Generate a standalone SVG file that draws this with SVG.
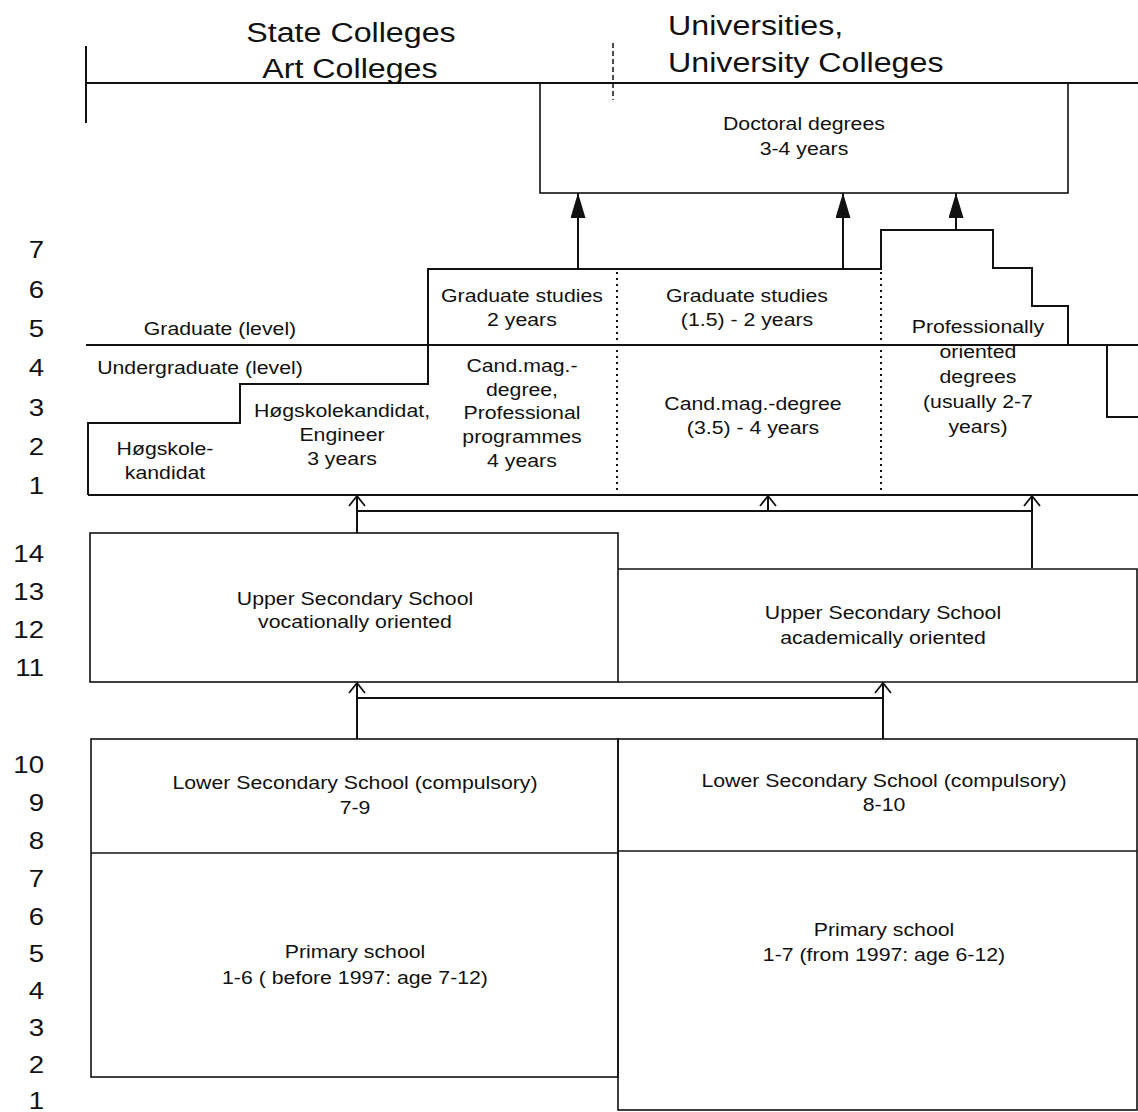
<svg xmlns="http://www.w3.org/2000/svg" width="1138" height="1112" viewBox="0 0 1138 1112">
<style>
.ln{fill:none;stroke:#111;stroke-width:2}
.bx{fill:none;stroke:#111;stroke-width:1.6}
.dot{fill:none;stroke:#111;stroke-width:2;stroke-dasharray:2 4}
.dash{fill:none;stroke:#111;stroke-width:1.5;stroke-dasharray:5 3}
.t{font-family:"Liberation Sans",Arial,sans-serif;font-size:18.5px;fill:#111;text-anchor:middle}
.h{font-family:"Liberation Sans",Arial,sans-serif;font-size:28px;fill:#111}
.n{font-family:"Liberation Sans",Arial,sans-serif;font-size:24px;fill:#111;text-anchor:end}
</style>
<defs>
<marker id="fa" viewBox="0 0 25 15" refX="25" refY="7.5" markerWidth="25" markerHeight="15" markerUnits="userSpaceOnUse" orient="auto">
<path d="M0,0 L25,7.5 L0,15 z" fill="#111"/>
</marker>
<marker id="oa" viewBox="-1 -1 12 18" refX="10" refY="8" markerWidth="12" markerHeight="18" markerUnits="userSpaceOnUse" orient="auto" overflow="visible">
<path d="M0,0 L10,8 L0,16" fill="none" stroke="#111" stroke-width="1.8"/>
</marker>
</defs>
<rect width="1138" height="1112" fill="#fff"/>

<g id="header">
<path class="ln" d="M86 83 H1138 M86 46 V123"/>
<path class="dash" d="M613 43 V100"/>
<g transform="scale(1.15 1)">
<text class="h" x="305.2" y="42" text-anchor="middle">State Colleges</text>
<text class="h" x="304.3" y="78" text-anchor="middle">Art Colleges</text>
<text class="h" x="580.9" y="35">Universities,</text>
<text class="h" x="580.9" y="72">University Colleges</text>
</g>
</g>

<g id="doctoral">
<rect class="bx" x="540" y="83" width="528" height="110"/>
<g transform="scale(1.15 1)">
<text class="t" x="699.1" y="130">Doctoral degrees</text>
<text class="t" x="699.1" y="155">3-4 years</text>
</g>
</g>

<g id="higher-education">
<path class="ln" d="M88 495 V423 H240 V384 H428 V269 H881 V230 H993 V268 H1032 V306 H1068 V345"/>
<path class="ln" d="M86 345 H1138 M1107 345 V417 H1138 M88 495 H1138"/>
<path class="dot" d="M617 272 V494 M881 272 V494"/>
<g transform="scale(1.15 1)">
<text class="t" x="191.3" y="335">Graduate (level)</text>
<text class="t" x="173.9" y="374">Undergraduate (level)</text>
<text class="t" x="297.4" y="417">Høgskolekandidat,</text>
<text class="t" x="297.4" y="441">Engineer</text>
<text class="t" x="297.4" y="465">3 years</text>
<text class="t" x="143.5" y="455">Høgskole-</text>
<text class="t" x="143.5" y="479">kandidat</text>
<text class="t" x="453.9" y="302">Graduate studies</text>
<text class="t" x="453.9" y="326">2 years</text>
<text class="t" x="453.9" y="372">Cand.mag.-</text>
<text class="t" x="453.9" y="396">degree,</text>
<text class="t" x="453.9" y="419">Professional</text>
<text class="t" x="453.9" y="443">programmes</text>
<text class="t" x="453.9" y="467">4 years</text>
<text class="t" x="649.6" y="302">Graduate studies</text>
<text class="t" x="649.6" y="326">(1.5) - 2 years</text>
<text class="t" x="654.8" y="410">Cand.mag.-degree</text>
<text class="t" x="654.8" y="434">(3.5) - 4 years</text>
<text class="t" x="850.4" y="333">Professionally</text>
<text class="t" x="850.4" y="358">oriented</text>
<text class="t" x="850.4" y="383">degrees</text>
<text class="t" x="850.4" y="408">(usually 2-7</text>
<text class="t" x="850.4" y="433">years)</text>
</g>
</g>

<g id="upper-secondary-vocational">
<rect class="bx" x="90" y="533" width="528" height="149"/>
<g transform="scale(1.15 1)">
<text class="t" x="308.7" y="605">Upper Secondary School</text>
<text class="t" x="308.7" y="628">vocationally oriented</text>
</g>
</g>

<g id="upper-secondary-academic">
<path class="bx" d="M618 569 H1137 V682 H618"/>
<g transform="scale(1.15 1)">
<text class="t" x="767.8" y="619">Upper Secondary School</text>
<text class="t" x="767.8" y="644">academically oriented</text>
</g>
</g>

<g id="compulsory-left">
<rect class="bx" x="91" y="739" width="527" height="338"/>
<path class="bx" d="M91 853 H618"/>
<g transform="scale(1.15 1)">
<text class="t" x="308.7" y="789">Lower Secondary School (compulsory)</text>
<text class="t" x="308.7" y="814">7-9</text>
<text class="t" x="308.7" y="958">Primary school</text>
<text class="t" x="308.7" y="984">1-6 ( before 1997: age 7-12)</text>
</g>
</g>

<g id="compulsory-right">
<rect class="bx" x="618" y="739" width="519" height="371"/>
<path class="bx" d="M618 851 H1137"/>
<g transform="scale(1.15 1)">
<text class="t" x="768.7" y="787">Lower Secondary School (compulsory)</text>
<text class="t" x="768.7" y="811">8-10</text>
<text class="t" x="768.7" y="936">Primary school</text>
<text class="t" x="768.7" y="961">1-7 (from 1997: age 6-12)</text>
</g>
</g>

<g id="year-scale" transform="scale(1.15 1)">
<text class="n" x="38.3" y="258">7</text>
<text class="n" x="38.3" y="298">6</text>
<text class="n" x="38.3" y="337">5</text>
<text class="n" x="38.3" y="376">4</text>
<text class="n" x="38.3" y="416">3</text>
<text class="n" x="38.3" y="455">2</text>
<text class="n" x="38.3" y="494">1</text>
<text class="n" x="38.3" y="562">14</text>
<text class="n" x="38.3" y="600">13</text>
<text class="n" x="38.3" y="638">12</text>
<text class="n" x="38.3" y="676">11</text>
<text class="n" x="38.3" y="773">10</text>
<text class="n" x="38.3" y="811">9</text>
<text class="n" x="38.3" y="849">8</text>
<text class="n" x="38.3" y="887">7</text>
<text class="n" x="38.3" y="925">6</text>
<text class="n" x="38.3" y="962">5</text>
<text class="n" x="38.3" y="999">4</text>
<text class="n" x="38.3" y="1036">3</text>
<text class="n" x="38.3" y="1073">2</text>
<text class="n" x="38.3" y="1109">1</text>
</g>

<g id="connectors">
<path class="ln" d="M578 269 V193" marker-end="url(#fa)"/>
<path class="ln" d="M843 269 V193" marker-end="url(#fa)"/>
<path class="ln" d="M956 230 V193" marker-end="url(#fa)"/>
<path class="ln" d="M357 533 V496" marker-end="url(#oa)"/>
<path class="ln" d="M357 511 H1032"/>
<path class="ln" d="M1032 568 V496" marker-end="url(#oa)"/>
<path class="ln" d="M768 511 V496" marker-end="url(#oa)"/>
<path class="ln" d="M357 739 V683" marker-end="url(#oa)"/>
<path class="ln" d="M357 698 H883"/>
<path class="ln" d="M883 739 V683" marker-end="url(#oa)"/>
</g>
</svg>
